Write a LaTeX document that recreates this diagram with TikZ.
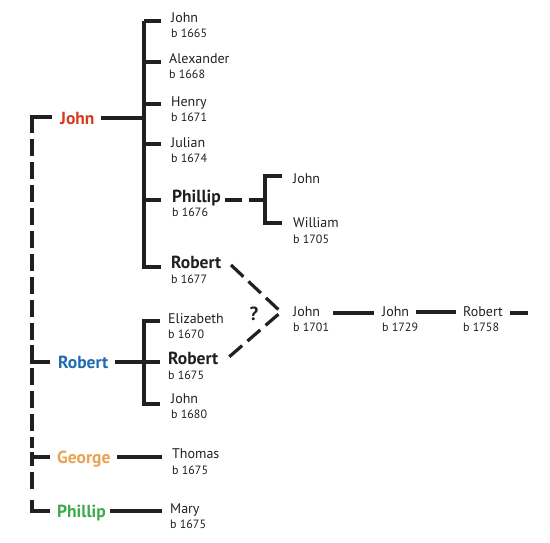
\documentclass[tikz,border=0pt]{standalone}
\usepackage{fontspec}
\setmainfont{PT Sans}
\definecolor{ink}{HTML}{231F20}
\definecolor{cred}{HTML}{D93A1F}
\definecolor{cblue}{HTML}{1F6BB3}
\definecolor{corange}{HTML}{E9A24F}
\definecolor{cgreen}{HTML}{3DAA4A}
\tikzset{
  ln/.style={draw=ink,line width=3.2pt},
  dsh/.style={ln,dash pattern=on 17pt off 6pt},
  dshb/.style={ln,dash pattern=on 17pt off 7pt},
  nm/.style={anchor=base west,inner sep=0pt,text=ink,font=\fontsize{14}{16}\selectfont},
  bnm/.style={nm,font=\fontsize{17.5}{20}\selectfont\bfseries},
  yr/.style={anchor=base west,inner sep=0pt,text=ink,font=\fontsize{12}{14}\selectfont},
  par/.style={anchor=base west,inner sep=0pt,font=\fontsize{17.5}{21}\selectfont\bfseries},
}
\begin{document}
\begin{tikzpicture}[x=1pt,y=-1pt]
\useasboundingbox (0,0) rectangle (550,542);
% parents
\node[par,text=cred] (pJohn) at (60,124) {John};
\node[par,text=cblue] (pRobert) at (58,368) {Robert};
\node[par,text=corange] (pGeorge) at (57,463) {George};
\node[par,text=cgreen] (pPhillip) at (57,517) {Phillip};
% John's children
\node[nm] (c1) at (171,22) {John};      \node[yr] (c1y) at (171,37) {b 1665};
\node[nm] (c2) at (169,63) {Alexander}; \node[yr] (c2y) at (169,78) {b 1668};
\node[nm] (c3) at (171,106) {Henry};    \node[yr] (c3y) at (171,121) {b 1671};
\node[nm] (c4) at (171,147) {Julian};   \node[yr] (c4y) at (171,162) {b 1674};
\node[bnm] (c5) at (172,202) {Phillip}; \node[yr] (c5y) at (172,216) {b 1676};
\node[bnm] (c6) at (171,268) {Robert};  \node[yr] (c6y) at (171,283) {b 1677};
% Robert's children
\node[nm] (r1) at (168,323) {Elizabeth}; \node[yr] (r1y) at (168,338) {b 1670};
\node[bnm] (r2) at (168,364) {Robert};   \node[yr] (r2y) at (168,379) {b 1675};
\node[nm] (r3) at (171,403) {John};      \node[yr] (r3y) at (171,418) {b 1680};
% George / Phillip children
\node[nm] (g1) at (172,458) {Thomas}; \node[yr] (g1y) at (172,474) {b 1675};
\node[nm] (m1) at (170,513) {Mary};   \node[yr] (m1y) at (170,528) {b 1675};
% Phillip 1676 children
\node[nm] (pc1) at (293,183) {John};
\node[nm] (pc2) at (293,227) {William}; \node[yr] (pc2y) at (293,243) {b 1705};
% descendants
\node[nm] (d1) at (293,316) {John};   \node[yr] (d1y) at (293,331) {b 1701};
\node[nm] (d2) at (382,316) {John};   \node[yr] (d2y) at (382,331) {b 1729};
\node[nm] (d3) at (463,316) {Robert}; \node[yr] (d3y) at (463,331) {b 1758};
\node[anchor=center,inner sep=0pt,text=ink,font=\fontsize{19}{22}\selectfont\bfseries] (q) at (254,314) {?};

% coordinates
\coordinate (top) at (32,117);
\coordinate (bot) at (32,511);
\coordinate (tJ) at (144,21);
\coordinate (tJb) at (144,267);
\coordinate (tR) at (144,321);
\coordinate (tRb) at (144,404);
\coordinate (tP) at (265,176);
\coordinate (tPb) at (265,223);
\coordinate (vapex) at (281,312);
\coordinate (endd) at (528,313);

% left dashed spine
\draw[ln] (52,117) -- (top) -- (32,133);
\draw[dsh] (32,139) -- (32,340);
\draw[ln] (32,345) -- (32,362) -- (50,362);
\draw[dsh] (32,368) -- (32,448);
\draw[ln] (32,452) -- (32,466);
\draw[ln] (32,457) -- (50,457);
\draw[dsh] (32,472) -- (32,495);
\draw[ln] (32,500) -- (bot) -- (50,511);

% parent to trunk
\draw[ln] (101,118) -- (144,118);
\draw[ln] (tJ) -- (161,21);
\draw[ln] (tJ) -- (tJb) -- (161,267);
\draw[ln] (144,62) -- (161,62);
\draw[ln] (144,104) -- (161,104);
\draw[ln] (144,144) -- (161,144);
\draw[ln] (144,200) -- (161,200);

\draw[ln] (115,362) -- (144,362);
\draw[ln] (160,321) -- (tR) -- (tRb) -- (160,404);
\draw[ln] (144,362) -- (160,362);

\draw[ln] (117,457) -- (162,457);
\draw[ln] (110,511) -- (162,511);

% Phillip 1676 branch
\draw[dshb] (225,200) -- (265,200);
\draw[ln] (282,176) -- (tP) -- (tPb) -- (282,223);

% Robert V
\draw[dshb] (231,265) -- (vapex) -- (229,357);

% descendant line
\draw[ln] (333,313) -- (374,313);
\draw[ln] (416,312) -- (456,312);
\draw[ln] (510,313) -- (endd);
\end{tikzpicture}
\end{document}
